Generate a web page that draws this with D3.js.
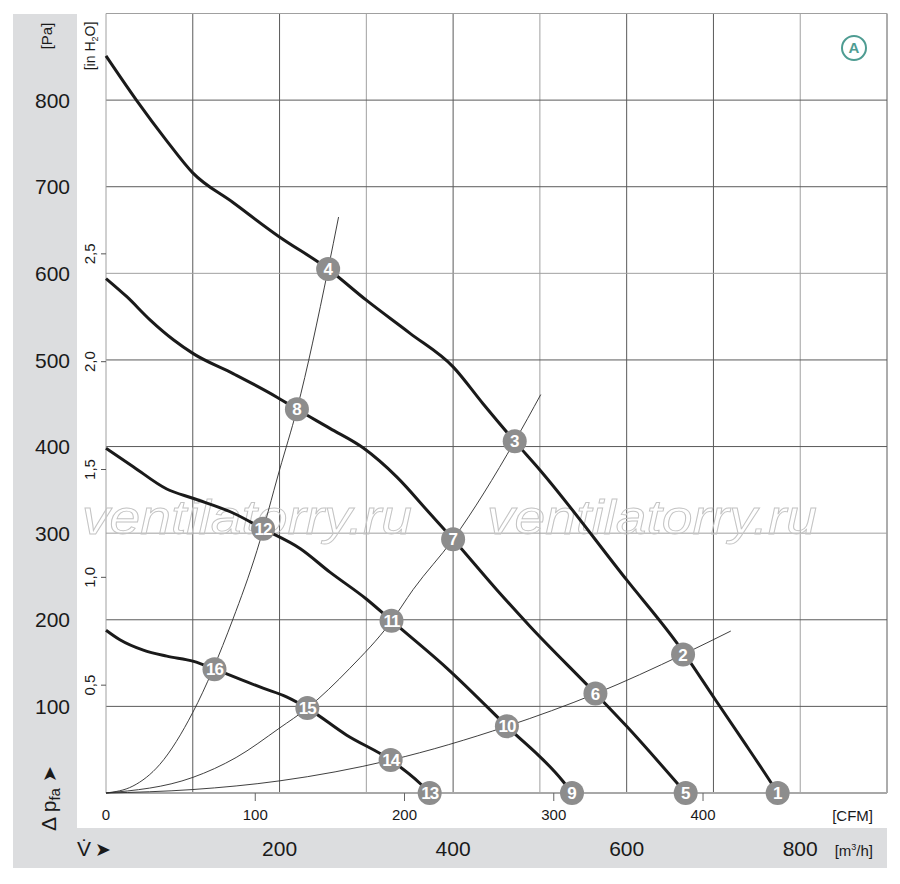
<!DOCTYPE html>
<html>
<head>
<meta charset="utf-8">
<script src="https://cdn.jsdelivr.net/npm/d3@7"></script>
<style>
  body { margin: 0; background: #fff; }
  svg text { font-family: "Liberation Sans", Arial, sans-serif; fill: #1a1a1a; }
</style>
</head>
<body>
<svg id="chart" width="900" height="884"></svg>
<script>
// axis ticks
const flowLabels = [200, 400, 600, 800];            // m3/h, bottom band
const flowGrid = [100, 200, 300, 400, 500, 600, 700, 800, 900];
const paLabels = [100, 200, 300, 400, 500, 600, 700, 800];
const paGrid = [100, 200, 300, 400, 500, 600, 700, 800, 900];
const inH2oTicks = [0.5, 1.0, 1.5, 2.0, 2.5];
const cfmTicks = [0, 100, 200, 300, 400];

// fan curves [m3/h, Pa]
const curve1 = [[0, 851], [35, 800], [70, 753], [100, 716], [146, 682], [200, 642],
  [256, 605], [300, 569], [350, 531], [400, 492], [434, 450], [471, 406], [500, 373], [600, 246],
  [658, 173], [700, 111], [731, 65], [767, 11], [774, 0]];
const curve2 = [[0, 594], [24, 573], [51, 546], [78, 523], [101, 507], [147, 484], [197, 457],
  [220, 443], [258, 421], [297, 398], [335, 365], [373, 323], [400, 293], [450, 235], [489, 192],
  [564, 115], [600, 77], [668, 0]];
const curve3 = [[0, 398], [31, 377], [70, 351], [101, 340], [147, 323], [181, 305], [224, 282],
  [258, 255], [300, 224], [329, 199], [393, 144], [462, 77], [527, 13], [537, 0]];
const curve4 = [[0, 188], [16, 177], [43, 165], [70, 158], [101, 152], [125, 143], [181, 121],
  [208, 111], [232, 98], [277, 67], [328, 38], [362, 11], [373, 0]];
const fanCurves = [curve1, curve2, curve3, curve4];

// system curves [m3/h, Pa]
const systemSteep = [[0, 0], [31, 8], [62, 33], [100, 93], [146, 200], [174, 280], [200, 373],
  [220, 443], [256, 605], [268, 665]];
const systemMid = [[0, 0], [100, 18], [150, 41], [200, 75], [232, 98], [281, 144], [328, 197],
  [354, 235], [400, 293], [471, 406], [501, 460]];
const systemLow = [[0, 0], [100, 4], [200, 14], [328, 38], [462, 77], [565, 115], [665, 160], [720, 187]];
const systemCurves = [systemSteep, systemMid, systemLow];

// operating points
const pointIds = [1, 2, 3, 4, 5, 6, 7, 8, 9, 10, 11, 12, 13, 14, 15, 16];
const pointFlow = [774, 665, 471, 256, 668, 564, 400, 220, 537, 462, 329, 181, 373, 328, 232, 125];
const pointPa = [0, 160, 406, 605, 0, 115, 293, 443, 0, 77, 199, 305, 0, 38, 98, 143];

const paPerInH2o = 249;
const m3hPerCfm = 1.72;

const svg = d3.select("#chart");
const band = "#dcdddf";

const x = d3.scaleLinear().domain([0, 900]).range([106, 887]);
const y = d3.scaleLinear().domain([0, 900]).range([793, 13.5]);
const xCfm = d3.scaleLinear().domain([0, 400]).range([x(0), x(400 * m3hPerCfm)]);

// grey bands
svg.append("rect").attr("x", 13).attr("y", 14).attr("width", 64).attr("height", 854).attr("fill", band);
svg.append("rect").attr("x", 13).attr("y", 828).attr("width", 874).attr("height", 40).attr("fill", band);

// grid
const lightFlow = new Set([300, 500, 800]);
const lightPa = new Set([300, 600, 900]);
const grid = svg.append("g");
grid.selectAll("line.v").data(flowGrid).enter().append("line")
  .attr("x1", d => x(d)).attr("x2", d => x(d)).attr("y1", y(900)).attr("y2", y(0))
  .attr("stroke", d => lightFlow.has(d) ? "#a0a0a0" : "#5a5a5a").attr("stroke-width", 1);
grid.selectAll("line.h").data(paGrid).enter().append("line")
  .attr("x1", x(0)).attr("x2", x(900)).attr("y1", d => y(d)).attr("y2", d => y(d))
  .attr("stroke", d => lightPa.has(d) ? "#a0a0a0" : "#5a5a5a").attr("stroke-width", 1);
grid.append("line").attr("x1", x(0)).attr("x2", x(0)).attr("y1", y(900)).attr("y2", y(0))
  .attr("stroke", "#a0a0a0");
grid.append("line").attr("x1", x(0)).attr("x2", x(900)).attr("y1", y(0)).attr("y2", y(0))
  .attr("stroke", "#a8a8a8").attr("stroke-width", 2);

// watermark
[82, 487].forEach(wx => {
  svg.append("text").attr("x", wx).attr("y", 534)
    .attr("font-size", 48).attr("font-style", "italic")
    .attr("textLength", 330).attr("lengthAdjust", "spacingAndGlyphs")
    .style("fill", "none").attr("stroke", "#c4c4c4").attr("stroke-width", 0.9)
    .text("ventilatorry.ru");
});

// curves
const line = d3.line().x(d => x(d[0])).y(d => y(d[1])).curve(d3.curveMonotoneX);
svg.append("g").selectAll("path").data(systemCurves).enter().append("path")
  .attr("d", line).attr("fill", "none").attr("stroke", "#2a2a2a").attr("stroke-width", 0.9);
svg.append("g").selectAll("path").data(fanCurves).enter().append("path")
  .attr("d", line).attr("fill", "none").attr("stroke", "#1a1a1a").attr("stroke-width", 3);

// markers
const pts = pointIds.map((id, i) => ({ id, v: pointFlow[i], p: pointPa[i] }));
const mk = svg.append("g").selectAll("g").data(pts).enter().append("g")
  .attr("transform", d => `translate(${x(d.v)},${y(d.p)})`);
mk.append("circle").attr("r", 12).attr("fill", "#8d8d8d");
mk.append("text").attr("text-anchor", "middle").attr("dy", "0.36em")
  .attr("font-size", 17).attr("font-weight", "bold")
  .attr("letter-spacing", d => d.id > 9 ? -1 : 0)
  .style("fill", "#fff").text(d => d.id);

// Pa labels
svg.append("g").selectAll("text").data(paLabels).enter().append("text")
  .attr("x", 70).attr("y", d => y(d)).attr("dy", "0.36em")
  .attr("text-anchor", "end").attr("font-size", 21).text(d => d);

// inH2O axis
const inG = svg.append("g");
inG.selectAll("line").data(inH2oTicks).enter().append("line")
  .attr("x1", 101).attr("x2", 106).attr("y1", d => y(d * paPerInH2o)).attr("y2", d => y(d * paPerInH2o))
  .attr("stroke", "#555");
inG.selectAll("text").data(inH2oTicks).enter().append("text")
  .attr("transform", d => `translate(90,${y(d * paPerInH2o)}) rotate(-90)`)
  .attr("dy", "0.36em").attr("text-anchor", "middle").attr("font-size", 15)
  .text(d => d3.format(".1f")(d).replace(".", ","));
const inLbl = svg.append("text").attr("transform", "translate(90,46) rotate(-90)")
  .attr("dy", "0.36em").attr("text-anchor", "middle").attr("font-size", 14);
inLbl.append("tspan").text("[in H");
inLbl.append("tspan").attr("font-size", 9).attr("dy", 3).text("2");
inLbl.append("tspan").attr("dy", -3).text("O]");

svg.append("text").attr("transform", "translate(47,36) rotate(-90)")
  .attr("dy", "0.36em").attr("text-anchor", "middle").attr("font-size", 15).text("[Pa]");

const dp = svg.append("text").attr("transform", "translate(48,831) rotate(-90)")
  .attr("dy", "0.36em").attr("text-anchor", "start").attr("font-size", 21);
dp.append("tspan").text("Δ p");
dp.append("tspan").attr("font-size", 15).attr("dy", 4).text("fa");
dp.append("tspan").attr("dy", -4).attr("font-family", "DejaVu Sans").attr("font-size", 19).text(" ➤");

// CFM axis
const cfmG = svg.append("g");
cfmG.selectAll("line").data(cfmTicks.filter(d => d > 0)).enter().append("line")
  .attr("x1", d => xCfm(d)).attr("x2", d => xCfm(d)).attr("y1", 793).attr("y2", 801)
  .attr("stroke", "#666");
cfmG.selectAll("text").data(cfmTicks).enter().append("text")
  .attr("x", d => xCfm(d)).attr("y", 820).attr("text-anchor", "middle").attr("font-size", 15)
  .text(d => d);
svg.append("text").attr("x", 873).attr("y", 821).attr("text-anchor", "end").attr("font-size", 15)
  .text("[CFM]");

// m3/h axis in bottom band
svg.append("g").selectAll("text").data(flowLabels).enter().append("text")
  .attr("x", d => x(d)).attr("y", 856).attr("text-anchor", "middle").attr("font-size", 21)
  .text(d => d);
const unit = svg.append("text").attr("x", 873).attr("y", 856).attr("text-anchor", "end").attr("font-size", 15);
unit.append("tspan").text("[m");
unit.append("tspan").attr("font-size", 9).attr("dy", -6).text("3");
unit.append("tspan").attr("dy", 6).text("/h]");

const vdot = svg.append("text").attr("x", 77).attr("y", 856).attr("font-size", 21);
vdot.append("tspan").text("V\u0307");
vdot.append("tspan").attr("dx", 4).attr("font-family", "DejaVu Sans").attr("font-size", 19).text("➤");

// curve set badge
svg.append("circle").attr("cx", 854).attr("cy", 48).attr("r", 12)
  .attr("fill", "#fff").attr("stroke", "#4e9c92").attr("stroke-width", 2);
svg.append("text").attr("x", 854).attr("y", 48).attr("dy", "0.36em").attr("text-anchor", "middle")
  .attr("font-size", 15).attr("font-weight", "bold").style("fill", "#4e9c92").text("A");
</script>
</body>
</html>
